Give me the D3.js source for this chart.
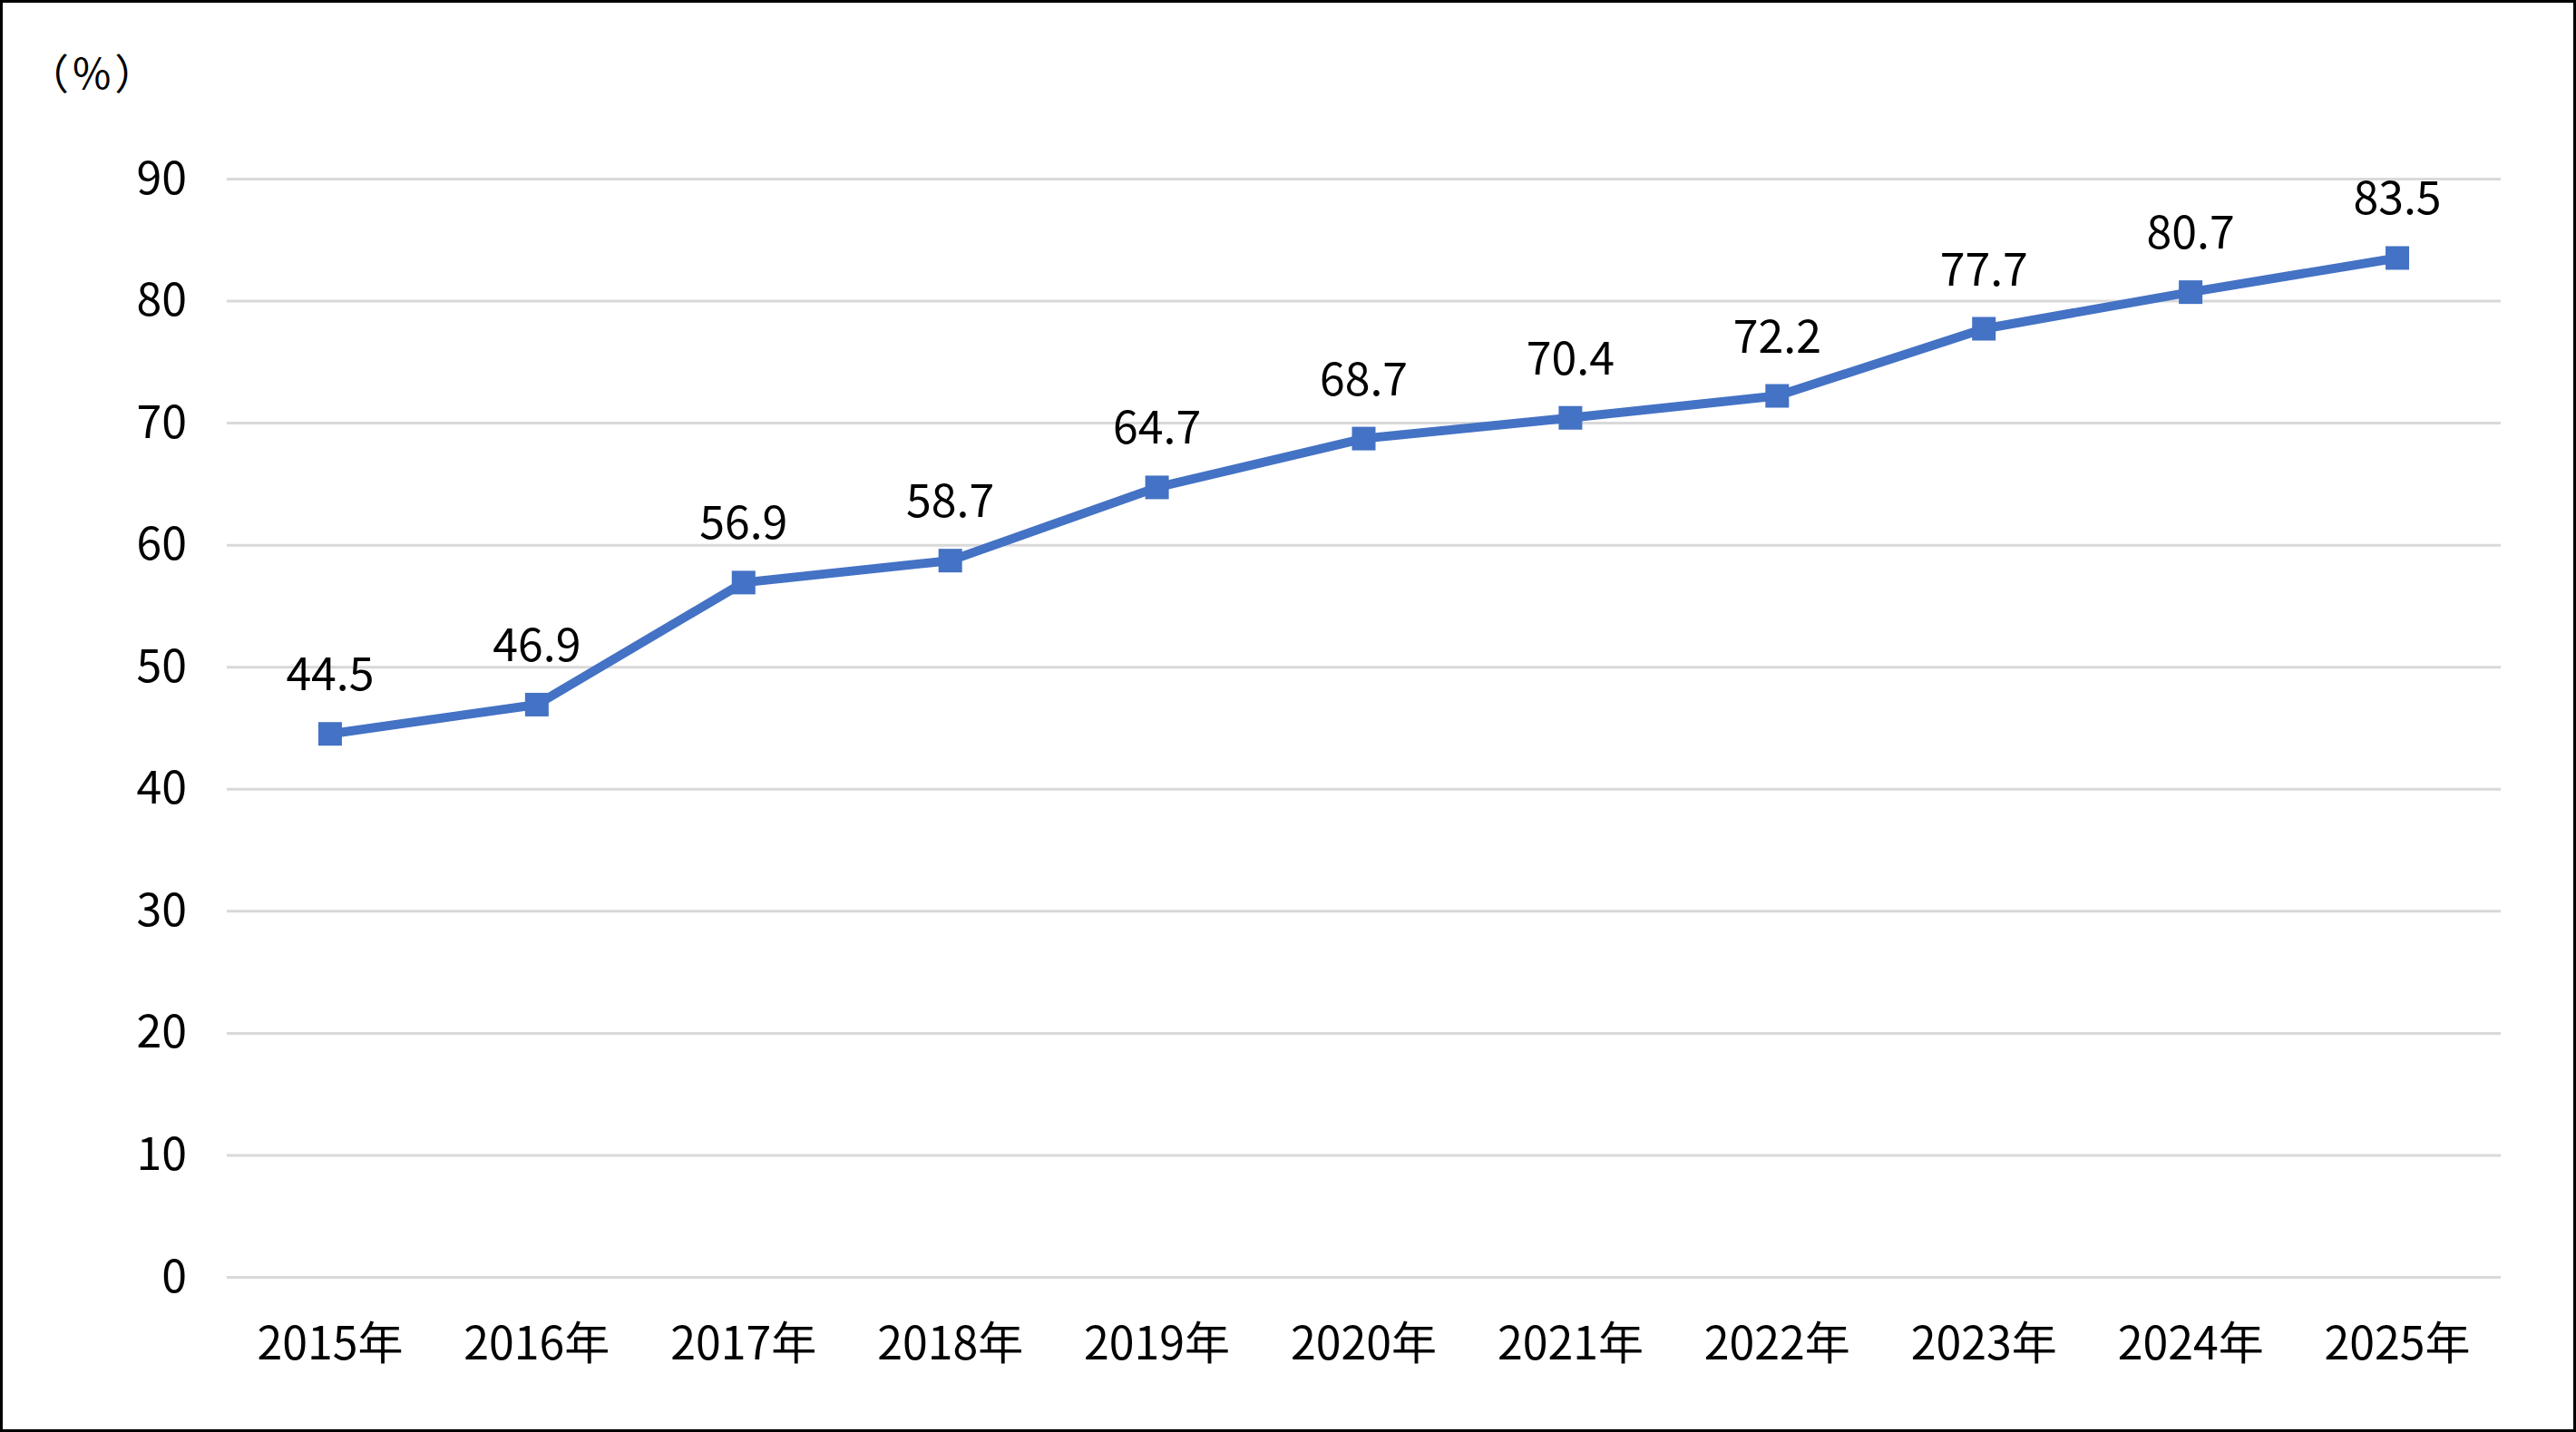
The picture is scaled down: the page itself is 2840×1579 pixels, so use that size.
<!DOCTYPE html>
<html>
<head>
<meta charset="utf-8">
<script src="https://cdn.jsdelivr.net/npm/d3@7"></script>
<style>
  html, body { margin: 0; padding: 0; background: #fff; }
  svg { display: block; }
  text { font-family: "Noto Sans CJK JP", "Noto Sans", sans-serif; fill: #000; }
</style>
</head>
<body>
<div id="chart"></div>
<script>
// data
const years = ['2015年', '2016年', '2017年', '2018年', '2019年', '2020年',
  '2021年', '2022年', '2023年', '2024年', '2025年'];
const rates = [44.5, 46.9, 56.9, 58.7, 64.7, 68.7, 70.4, 72.2, 77.7, 80.7, 83.5];
const yTicks = [0, 10, 20, 30, 40, 50, 60, 70, 80, 90];
const unitLabel = '（%）';

const width = 2840;
const height = 1579;
const margins = { left: 250, right: 83, top: 197, bottom: 171 };
const LINE_COLOR = '#4472c4';
const GRID_COLOR = '#d9d9d9';

const svg = d3.select('#chart')
  .append('svg')
    .attr('width', width)
    .attr('height', height);

// outer frame
svg.append('rect')
    .attr('x', 1.5)
    .attr('y', 1.5)
    .attr('width', width - 3)
    .attr('height', height - 3)
    .attr('fill', '#fff')
    .attr('stroke', '#000')
    .attr('stroke-width', 3);

const xScale = d3.scaleBand()
  .domain(years)
  .range([margins.left, width - margins.right]);

const yScale = d3.scaleLinear()
  .domain([0, 90])
  .range([height - margins.bottom, margins.top]);

// gridlines + y labels
const yAxis = d3.axisLeft(yScale)
  .tickValues(yTicks)
  .tickSize(-(width - margins.left - margins.right))
  .tickPadding(44);

svg.append('g')
    .attr('transform', 'translate(' + margins.left + ',0)')
    .call(yAxis)
    .call(g => g.select('.domain').remove())
    .call(g => g.selectAll('.tick line')
      .attr('stroke', GRID_COLOR)
      .attr('stroke-width', 3))
    .call(g => g.selectAll('.tick text')
      .attr('font-size', 50)
      .attr('fill', '#000'));

// x labels
const xAxis = d3.axisBottom(xScale)
  .tickSize(0)
  .tickPadding(55);

svg.append('g')
    .attr('transform', 'translate(0,' + (height - margins.bottom) + ')')
    .call(xAxis)
    .call(g => g.select('.domain').remove())
    .call(g => g.selectAll('.tick text')
      .attr('font-size', 50)
      .attr('fill', '#000'));

// unit label
svg.append('text')
    .attr('x', 30)
    .attr('y', 98)
    .attr('font-size', 46)
    .attr('letter-spacing', 4)
    .text(unitLabel);

const cx = (d, i) => xScale(years[i]) + xScale.bandwidth() / 2;

const line = d3.line()
  .x(cx)
  .y(d => yScale(d));

svg.append('path')
    .datum(rates)
    .attr('fill', 'none')
    .attr('stroke', LINE_COLOR)
    .attr('stroke-width', 10)
    .attr('stroke-linejoin', 'round')
    .attr('d', line);

const markerSize = 26;

svg.append('g')
  .selectAll('rect')
    .data(rates)
  .enter()
  .append('rect')
    .attr('x', (d, i) => cx(d, i) - markerSize / 2)
    .attr('y', d => yScale(d) - markerSize / 2)
    .attr('width', markerSize)
    .attr('height', markerSize)
    .attr('fill', LINE_COLOR);

svg.append('g')
  .selectAll('text')
    .data(rates)
  .enter()
  .append('text')
    .attr('x', cx)
    .attr('y', d => yScale(d) - 48)
    .attr('text-anchor', 'middle')
    .attr('font-size', 50)
    .text(d => d.toFixed(1));
</script>
</body>
</html>
